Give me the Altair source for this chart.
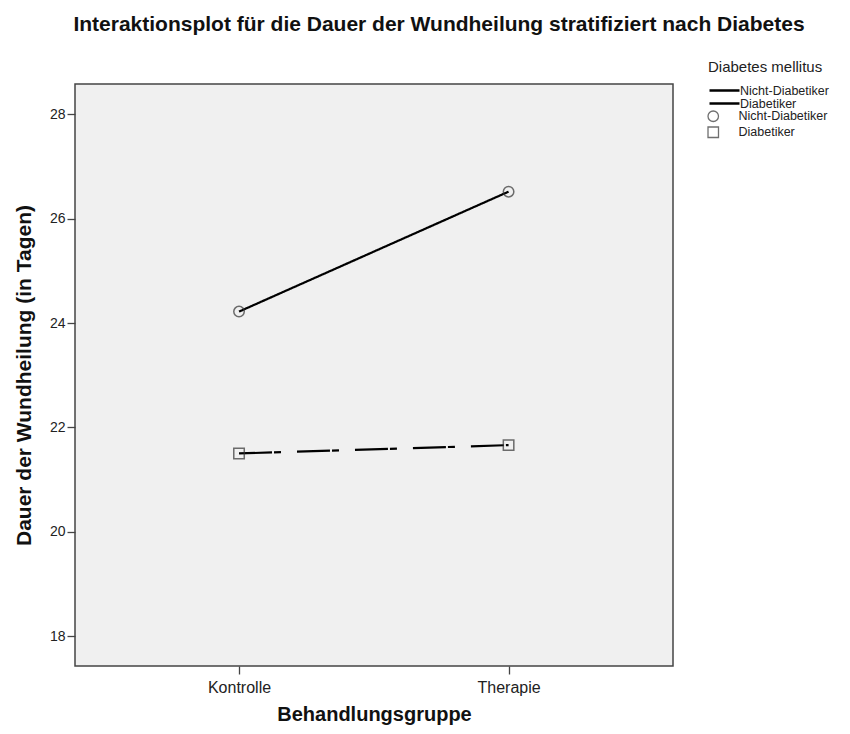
import altair as alt
import pandas as pd

categories = ["Kontrolle", "Therapie"]
groups = ["Nicht-Diabetiker", "Diabetiker"]
nicht_diabetiker = [24.22, 26.52]
diabetiker = [21.50, 21.66]
y_ticks = [18, 20, 22, 24, 26, 28]

rows = []
for g, vals in zip(groups, [nicht_diabetiker, diabetiker]):
    for i, (c, v) in enumerate(zip(categories, vals)):
        rows.append({"gruppe": c, "idx": i, "diabetes": g, "dauer": v})
df = pd.DataFrame(rows)

FONT = "Liberation Sans"
label_expr = "[" + ",".join(f"'{c}'" for c in categories) + "][datum.value]"

x = alt.X(
    "idx:Q",
    scale=alt.Scale(domain=[-0.6085, 1.61], nice=False, zero=False),
    axis=alt.Axis(
        title="Behandlungsgruppe", values=[0, 1], labelExpr=label_expr,
        grid=False, domain=False, tickSize=8, tickColor="#444", tickWidth=1.3,
        labelFontSize=16, labelColor="#222", labelFont=FONT, titleFont=FONT,
        titleFontSize=20, titleFontWeight="bold", titleColor="#111",
        labelPadding=5, titlePadding=9,
    ),
)
y = alt.Y(
    "dauer:Q",
    scale=alt.Scale(domain=[17.425, 28.584], nice=False, zero=False),
    axis=alt.Axis(
        title="Dauer der Wundheilung (in Tagen)", values=y_ticks, grid=False,
        domain=False, tickSize=8, tickColor="#444", tickWidth=1.3,
        labelFontSize=14, labelColor="#222", labelFont=FONT, titleFont=FONT,
        titleFontSize=21, titleFontWeight="bold", titleColor="#111",
        labelPadding=2, titlePadding=15,
    ),
)

lines = alt.Chart(df).mark_line(color="black", strokeWidth=2.2).encode(
    x=x, y=y,
    strokeDash=alt.StrokeDash(
        "diabetes:N",
        scale=alt.Scale(domain=groups, range=[[1, 0], [33, 2, 7, 16]]),
        legend=alt.Legend(
            title="Diabetes mellitus", orient="none", legendX=633, legendY=-24,
            symbolType="M-3,0H3", symbolSize=100, symbolStrokeWidth=2.5,
            symbolStrokeColor="black", symbolFillColor="transparent",
            symbolOffset=10, labelFontSize=12.5, labelFont=FONT,
            titleFont=FONT, titleFontSize=15, titleFontWeight="normal",
            titleColor="#222", labelColor="#222", titlePadding=9,
            rowPadding=0, labelOffset=9, labelLimit=200,
        ),
    ),
    detail="diabetes:N",
)

points = alt.Chart(df).mark_point(filled=False, color="#333", strokeWidth=1.5, size=110).encode(
    x=x, y=y,
    shape=alt.Shape(
        "diabetes:N",
        scale=alt.Scale(domain=groups, range=["circle", "square"]),
        legend=alt.Legend(
            title=None, orient="none", legendX=633, legendY=26,
            symbolSize=110, symbolStrokeColor="#333", symbolStrokeWidth=1.3,
            symbolFillColor="transparent", labelFontSize=12.5, labelFont=FONT,
            labelColor="#222", rowPadding=-1, labelOffset=19, symbolOffset=-1,
            labelLimit=200,
        ),
    ),
)

chart = (
    alt.layer(lines, points)
    .resolve_scale(strokeDash="independent", shape="independent")
    .properties(
        width=598, height=582,
        title=alt.TitleParams(
            "Interaktionsplot für die Dauer der Wundheilung stratifiziert nach Diabetes",
            font=FONT, fontSize=21, fontWeight="bold", color="#111",
            anchor="middle", dx=65, offset=25,
        ),
        autosize=alt.AutoSizeParams(type="none"),
        padding={"left": 67, "top": 76, "right": 162, "bottom": 60},
    )
    .configure(background="white")
    .configure_view(fill="#f0f0f0", stroke="#444", strokeWidth=1.5)
)

chart.save("out.html", embed_options={"renderer": "svg", "actions": False})
